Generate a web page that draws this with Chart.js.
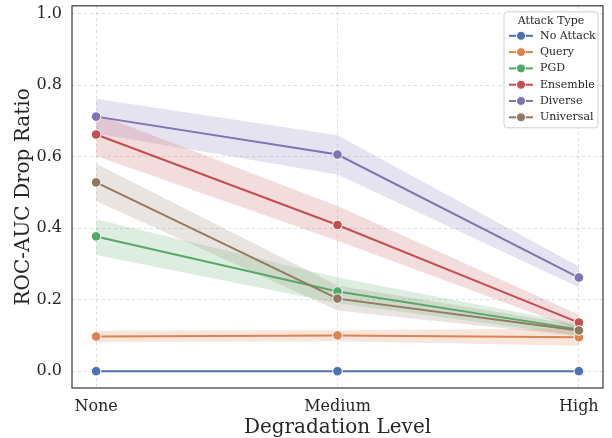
<!DOCTYPE html>
<html><head><meta charset="utf-8">
<script src="https://cdn.jsdelivr.net/npm/chart.js@4.4.1/dist/chart.umd.min.js"></script>
<style>html,body{margin:0;padding:0;background:#fff}</style>
</head><body>
<canvas id="c" width="612" height="438"></canvas>
<script>
const categories = ['None', 'Medium', 'High'];
const seriesNames = ['No Attack', 'Query', 'PGD', 'Ensemble', 'Diverse', 'Universal'];
const yTicks = [0, 0.2, 0.4, 0.6, 0.8, 1.0];

const noAttack  = [0.000, 0.000, 0.000];
const query     = [0.097, 0.100, 0.095];
const pgd       = [0.377, 0.223, 0.117];
const ensemble  = [0.662, 0.409, 0.136];
const diverse   = [0.712, 0.606, 0.262];
const universal = [0.528, 0.203, 0.114];

const noAttackLo  = [0.000, 0.000, 0.000], noAttackHi  = [0.000, 0.000, 0.000];
const queryLo     = [0.082, 0.084, 0.071], queryHi     = [0.113, 0.115, 0.119];
const pgdLo       = [0.325, 0.190, 0.100], pgdHi       = [0.425, 0.262, 0.132];
const ensembleLo  = [0.602, 0.365, 0.115], ensembleHi  = [0.720, 0.462, 0.158];
const diverseLo   = [0.665, 0.550, 0.235], diverseHi   = [0.762, 0.660, 0.293];
const universalLo = [0.476, 0.170, 0.098], universalHi = [0.580, 0.240, 0.128];

const colors = ['#4C72B0', '#DD8452', '#55A868', '#C44E52', '#8172B3', '#937860'];
const means = [noAttack, query, pgd, ensemble, diverse, universal];
const lows  = [noAttackLo, queryLo, pgdLo, ensembleLo, diverseLo, universalLo];
const highs = [noAttackHi, queryHi, pgdHi, ensembleHi, diverseHi, universalHi];

const FONT = "'DejaVu Serif', serif";
const TXT = '#262626';

function pts(arr) { return arr.map((v, i) => ({ x: i, y: v })); }
function rgba(hex, a) {
  const n = parseInt(hex.slice(1), 16);
  return `rgba(${(n >> 16) & 255},${(n >> 8) & 255},${n & 255},${a})`;
}

const datasets = [];
seriesNames.forEach((name, k) => {
  datasets.push({ label: name + ' hi', data: pts(highs[k]), borderWidth: 0, pointRadius: 0,
    fill: false, order: 20 + k, borderColor: 'transparent' });
  datasets.push({ label: name + ' lo', data: pts(lows[k]), borderWidth: 0, pointRadius: 0,
    fill: '-1', backgroundColor: rgba(colors[k], 0.2), order: 20 + k, borderColor: 'transparent' });
});
seriesNames.forEach((name, k) => {
  datasets.push({ label: name, data: pts(means[k]), borderColor: colors[k], backgroundColor: colors[k],
    borderWidth: 2, pointRadius: 4.8, pointBorderColor: '#ffffff', pointBorderWidth: 1,
    pointBackgroundColor: colors[k], fill: false, order: 10 - k, tension: 0 });
});

const framePlugin = {
  id: 'frame',
  afterDatasetsDraw(chart) {
    const { ctx, chartArea: a } = chart;
    ctx.save();
    ctx.strokeStyle = '#3d3d3d';
    ctx.lineWidth = 1.25;
    ctx.strokeRect(a.left, a.top, a.right - a.left, a.bottom - a.top);
    ctx.restore();
  }
};

const legendPlugin = {
  id: 'seabornLegend',
  afterDraw(chart) {
    const { ctx, chartArea: a } = chart;
    const w = 94, h = 116;
    const x = a.right - 5 - w, y = a.top + 6;
    ctx.save();
    ctx.beginPath();
    if (ctx.roundRect) ctx.roundRect(x, y, w, h, 3); else ctx.rect(x, y, w, h);
    ctx.fillStyle = 'rgba(255,255,255,0.85)';
    ctx.fill();
    ctx.strokeStyle = '#d0d0d0';
    ctx.lineWidth = 1;
    ctx.stroke();
    ctx.fillStyle = TXT;
    ctx.font = `11px ${FONT}`;
    ctx.textAlign = 'center';
    ctx.textBaseline = 'middle';
    ctx.fillText('Attack Type', x + w / 2, y + 9);
    ctx.textAlign = 'left';
    seriesNames.forEach((name, k) => {
      const yy = y + 24 + k * 16.3;
      ctx.strokeStyle = colors[k];
      ctx.lineWidth = 2;
      ctx.beginPath(); ctx.moveTo(x + 5, yy); ctx.lineTo(x + 29, yy); ctx.stroke();
      ctx.beginPath(); ctx.arc(x + 17, yy, 4.5, 0, Math.PI * 2);
      ctx.fillStyle = colors[k]; ctx.fill();
      ctx.strokeStyle = '#fff'; ctx.lineWidth = 1; ctx.stroke();
      ctx.fillStyle = TXT;
      ctx.fillText(name, x + 36, yy);
    });
    ctx.restore();
  }
};

new Chart(document.getElementById('c'), {
  type: 'line',
  data: { datasets },
  options: {
    responsive: false,
    animation: false,
    devicePixelRatio: 1,
    layout: { padding: { top: 4, right: 9, left: 0, bottom: 0 } },
    plugins: {
      legend: { display: false },
      tooltip: { enabled: false },
      filler: { drawTime: 'beforeDatasetsDraw', propagate: false }
    },
    scales: {
      x: {
        type: 'linear', min: -0.1, max: 2.1,
        afterBuildTicks: s => { s.ticks = categories.map((c, i) => ({ value: i })); },
        afterFit: s => { s.height = 50; s.paddingLeft = 0; s.paddingRight = 0; },
        ticks: { callback: v => categories[v], color: TXT, font: { family: FONT, size: 16 }, padding: 9, maxRotation: 0 },
        grid: { color: 'rgba(0,0,0,0.13)', lineWidth: 1, drawTicks: false },
        border: { display: false, dash: [3, 3] },
        title: { display: true, text: 'Degradation Level', color: TXT, font: { family: FONT, size: 20 }, padding: { top: 0, bottom: -2 } }
      },
      y: {
        min: -0.047, max: 1.022,
        afterBuildTicks: s => { s.ticks = yTicks.map(v => ({ value: v })); },
        afterFit: s => { s.width = 72; s.paddingTop = 0; s.paddingBottom = 0; },
        ticks: { callback: v => Number(v).toFixed(1), color: TXT, font: { family: FONT, size: 16 }, padding: 10 },
        grid: { color: 'rgba(0,0,0,0.13)', lineWidth: 1, drawTicks: false },
        border: { display: false, dash: [3, 3] },
        title: { display: true, text: 'ROC-AUC Drop Ratio', color: TXT, font: { family: FONT, size: 20 }, padding: { top: 12, bottom: 0 } }
      }
    }
  },
  plugins: [framePlugin, legendPlugin]
});
</script>
</body></html>
